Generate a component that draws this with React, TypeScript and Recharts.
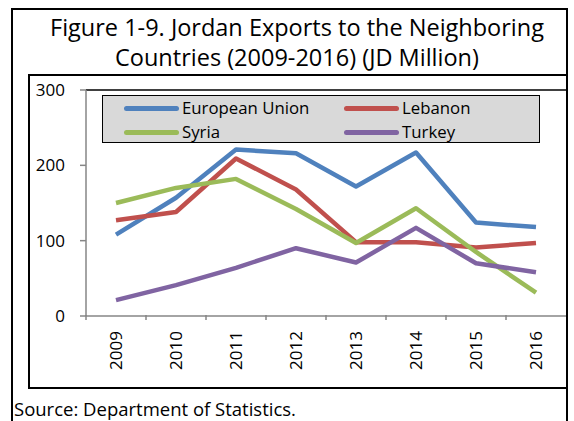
import React from "react";
import { LineChart, Line, XAxis, YAxis, Legend, ReferenceLine } from "recharts";

const years = ["2009", "2010", "2011", "2012", "2013", "2014", "2015", "2016"];
const europeanUnion = [108, 157, 221, 216, 172, 217, 124, 118];
const lebanon = [127, 138, 209, 168, 98, 98, 91, 97];
const syria = [150, 170, 182, 142, 97, 143, 85, 31];
const turkey = [21, 41, 64, 90, 71, 117, 70, 58];
const yTicks = [0, 100, 200, 300];

const seriesList = [
  { key: "eu", name: "European Union", values: europeanUnion, color: "#4F81BD" },
  { key: "lb", name: "Lebanon", values: lebanon, color: "#C0504D" },
  { key: "sy", name: "Syria", values: syria, color: "#9BBB59" },
  { key: "tr", name: "Turkey", values: turkey, color: "#8064A2" },
];

const data = years.map((year, i) => {
  const row: any = { year };
  seriesList.forEach((s) => (row[s.key] = s.values[i]));
  return row;
});

const FONT = "'Open Sans', 'Noto Sans', sans-serif";

// year labels turned upright, with a tick mark on the left edge of each category
const YearTick = (props: any) => {
  const { x, y, payload } = props;
  return (
    <g>
      <line x1={x - 30} y1={y - 9} x2={x - 30} y2={y - 4} stroke="#868686" strokeWidth={1.5} />
      <text
        x={0}
        y={0}
        transform={`translate(${x + 6}, ${y + 7}) rotate(-90)`}
        textAnchor="end"
        fontSize={17}
        fontFamily={FONT}
        fill="#000"
      >
        {payload.value}
      </text>
    </g>
  );
};

const LegendBox = (props: any) => {
  const { payload } = props;
  return (
    <div
      style={{
        width: 438,
        height: 48,
        background: "#D9D9D9",
        border: "1.5px solid #000",
        display: "grid",
        gridTemplateColumns: "220px 216px",
        gridTemplateRows: "24px 24px",
        boxSizing: "border-box",
        paddingTop: 0,
        fontFamily: FONT,
        fontSize: 16.8,
        lineHeight: "24px",
      }}
    >
      {payload.map((p: any) => (
        <div key={p.value} style={{ display: "flex", alignItems: "center", paddingLeft: 21 }}>
          <span
            style={{
              display: "inline-block",
              width: 55,
              height: 5,
              borderRadius: 3,
              background: p.color,
              marginRight: 3,
            }}
          />
          <span>{p.value}</span>
        </div>
      ))}
    </div>
  );
};

export default function App() {
  return (
    <div
      style={{
        position: "absolute",
        left: 0,
        top: 0,
        width: 574,
        height: 421,
        background: "#fff",
        overflow: "hidden",
        fontFamily: FONT,
      }}
    >
      {/* outer frame */}
      <div
        style={{
          position: "absolute",
          left: 11,
          top: 8,
          width: 557,
          height: 430,
          boxSizing: "border-box",
          borderLeft: "2px solid #000",
          borderTop: "2px solid #000",
          borderRight: "2px solid #000",
        }}
      />
      <div
        style={{
          position: "absolute",
          left: 13,
          top: 12,
          width: 568,
          textAlign: "center",
          fontSize: 23.5,
          lineHeight: "30px",
          color: "#000",
        }}
      >
        Figure 1-9. Jordan Exports to the Neighboring
        <br />
        Countries (2009-2016) (JD Million)
      </div>
      {/* chart frame */}
      <div
        style={{
          position: "absolute",
          left: 28,
          top: 74,
          width: 540,
          height: 315,
          boxSizing: "border-box",
          border: "2px solid #000",
        }}
      />
      <div
        style={{
          position: "absolute",
          left: 14,
          top: 396,
          fontSize: 18.5,
          color: "#000",
        }}
      >
        Source: Department of Statistics.
      </div>
      <div style={{ position: "absolute", left: 0, top: 0 }}>
        <LineChart
          width={574}
          height={421}
          data={data}
          margin={{ top: 90, right: 8, bottom: 0, left: 0 }}
        >
          <XAxis
            dataKey="year"
            padding={{ left: 30, right: 30 }}
            axisLine={{ stroke: "#868686", strokeWidth: 1.5 }}
            tickLine={false}
            tick={<YearTick />}
            interval={0}
            height={105}
          />
          <YAxis
            domain={[0, 300]}
            ticks={yTicks}
            width={86}
            axisLine={{ stroke: "#868686", strokeWidth: 1.5 }}
            tickLine={{ stroke: "#868686", strokeWidth: 1.5 }}
            tickSize={6}
            tickMargin={15}
            tick={{ fontSize: 17, fill: "#000", fontFamily: FONT }}
          />
          <ReferenceLine y={300} stroke="#000" strokeWidth={1.5} />
          <Legend
            content={<LegendBox />}
            layout="horizontal"
            verticalAlign="middle"
            align="center"
            wrapperStyle={{ position: "absolute", left: 102, top: 95, width: 438 }}
          />
          {seriesList.map((s) => (
            <Line
              key={s.key}
              dataKey={s.key}
              name={s.name}
              stroke={s.color}
              strokeWidth={4.5}
              strokeLinejoin="round"
              dot={false}
              isAnimationActive={false}
            />
          ))}
        </LineChart>
      </div>
    </div>
  );
}
